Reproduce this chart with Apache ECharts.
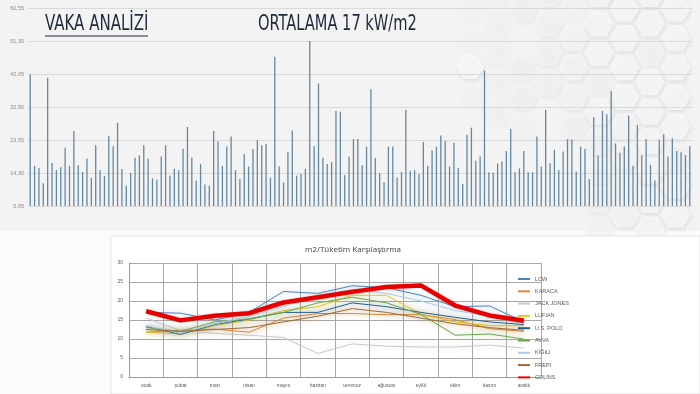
<!DOCTYPE html>
<html><head><meta charset="utf-8">
<script src="https://cdn.jsdelivr.net/npm/echarts@6/dist/echarts.min.js"></script>
<style>html,body{margin:0;padding:0;background:#f3f3f3}#c{width:700px;height:394px}</style>
</head><body><div id="c"></div>
<script>
// ---- top chart data ----
const barTicks = [5.05, 14.30, 23.55, 32.80, 42.05, 51.30, 60.55];
const barValues = [
 42.0,16.3,15.7,11.4,41.0,17.1,15.1,15.9,21.4,16.3,26.1,16.5,14.6,18.3,13.0,22.1,15.1,13.5,24.7,21.8,
 28.4,15.4,10.7,14.4,18.6,19.3,22.1,18.3,12.8,12.4,18.9,22.1,13.5,15.4,15.1,21.1,27.2,18.6,12.1,16.8,
 11.1,10.7,26.1,23.2,16.3,21.7,24.5,15.1,12.6,19.6,16.1,
 21.0,23.5,22.1,22.4,13.0,46.9,16.1,11.6,20.2,26.2,13.5,14.0,15.4,51.3,21.9,39.4,18.6,16.8,17.4,31.7,
 31.5,13.7,18.9,23.8,23.8,16.5,21.7,37.8,18.5,14.2,11.7,21.7,21.7,13.0,14.6,32.0,14.9,15.1,14.0,23.0,
 16.3,20.7,21.7,24.8,23.3,16.1,22.8,15.7,11.2,25.0,27.0,17.7,18.9,43.0,14.5,14.4,17.0,
 17.5,20.5,26.6,14.5,15.6,20.5,14.5,14.5,24.5,16.1,32.0,17.0,20.8,15.1,20.3,23.8,23.7,14.7,21.7,21.0,
 12.6,29.9,19.2,31.7,30.8,37.3,22.6,20.0,21.7,30.4,16.3,27.8,19.3,23.8,16.5,12.3,23.6,25.1,18.9,24.0,
 20.5,20.1,19.3,21.9
];
const barCats = barValues.map((v, i) => String(i + 1));

// ---- bottom chart data ----
const months = ["ocak","şubat","mart","nisan","mayıs","haziran","temmuz","ağustos","eylül","ekim","kasım","aralık"];
const lcw       = [17.0,16.8,15.0,17.0,22.5,22.0,24.0,23.5,21.5,18.5,18.7,14.5];
const karaca    = [11.8,12.3,12.6,11.8,15.5,16.7,16.7,16.4,16.4,15.1,12.7,12.0];
const jackJones = [15.5,12.2,11.5,11.0,10.4,6.2,8.7,8.1,7.9,7.9,8.4,7.6];
const lufian    = [11.8,11.3,13.5,15.0,17.5,18.5,21.5,21.5,16.5,14.5,13.5,13.5];
const usPolo    = [13.3,11.2,13.8,15.3,17.0,17.0,19.5,18.5,17.0,15.7,14.5,13.8];
const avva      = [13.0,12.0,14.5,15.3,17.0,19.5,21.0,19.5,16.5,11.0,11.3,10.0];
const kigili    = [13.5,11.5,14.0,16.0,18.5,21.5,23.0,22.0,20.0,17.5,16.0,14.0];
const frepi     = [12.5,12.0,12.5,13.0,14.5,16.0,18.0,17.0,15.5,14.0,13.0,12.3];
const colins    = [17.3,14.9,16.1,16.8,19.6,21.0,22.4,23.7,24.1,18.8,16.2,14.8];
const lineNames = ["LCW","KARACA","JACK JONES","LUFIAN","U.S. POLO","AVVA","KİĞILI","FREPI","COLİNS"];
const lineData  = [lcw,karaca,jackJones,lufian,usPolo,avva,kigili,frepi,colins];
const lineColors = ["#4f81bd","#e0883a","#c9c9c9","#f2c418","#245f8c","#6aa84f","#a9cbe8","#9c6a35","#e60000"];

const chart = echarts.init(document.getElementById('c'), null, {renderer:'canvas'});
const fmt = v => v.toFixed(2).replace('.', ',');

// decorative hexagon background (top right), subtle embossed look
const hexes = [];
const R = 17, hH = R * Math.sqrt(3) / 2;
function hexPts(cx, cy, r) {
  const pts = [];
  for (let k = 0; k < 6; k++) { const ang = Math.PI / 3 * k; pts.push([cx + r * Math.cos(ang), cy + r * Math.sin(ang)]); }
  return pts;
}
for (let col = 0; col < 12; col++) {
  for (let row = 0; row < 9; row++) {
    const cx = 395 + col * R * 1.5;
    const cy = -6 + row * hH * 2 + (col % 2 ? hH : 0);
    if (cy > 235) continue;
    let a = (cx - 470) / 200 + (cy < 120 ? 0.15 : -0.1);
    if (cy > 130 && cx < 580) a -= 0.35;
    if ((col * 5 + row * 3) % 7 === 0) a -= 0.5;
    if (a <= 0.08) continue;
    a = Math.min(0.85, a);
    hexes.push({type:'polygon', shape:{points:hexPts(cx, cy, R - 2)}, z:-8, silent:true,
      style:{fill:'#f7f7f7', opacity:a, shadowBlur:4, shadowOffsetX:1, shadowOffsetY:2, shadowColor:'rgba(0,0,0,0.10)'}});
  }
}
hexes.push({type:'polygon', shape:{points:hexPts(470, 67, 14)}, z:-8, silent:true,
  style:{fill:'#f8f8f8', opacity:0.85, shadowBlur:4, shadowOffsetX:1, shadowOffsetY:2, shadowColor:'rgba(0,0,0,0.10)'}});

const lineSeries = lineNames.map((n, i) => ({
  name: n, type: 'line', xAxisIndex: 1, yAxisIndex: 1, data: lineData[i],
  symbol: 'none', smooth: false,
  lineStyle: {width: i === 8 ? 4.5 : 1, color: lineColors[i],
    shadowBlur: i === 8 ? 2 : 6, shadowColor: i === 8 ? 'rgba(230,0,0,0.2)' : lineColors[i] + '99'},
  itemStyle: {color: lineColors[i]}, z: i === 8 ? 5 : 3
}));

const titleFont = '22px "Liberation Sans Narrow","DejaVu Sans Condensed","Roboto",sans-serif';

chart.setOption({
  animation: false,
  backgroundColor: '#f3f3f3',
  graphic: hexes.concat([
    {type:'rect', shape:{x:0,y:231,width:700,height:163}, style:{fill:'#fbfbfb'}, z:-10},
    {type:'rect', shape:{x:111,y:236,width:589,height:158}, style:{fill:'#ffffff', stroke:'#e4e4e4', lineWidth:1}, z:-7},
    {type:'text', x:45, y:13, scaleX:0.76, originX:0, originY:0,
      style:{text:'VAKA ANALİZİ', font:titleFont, fill:'#1d2a3a'}, z:10},
    {type:'line', shape:{x1:45,y1:36,x2:148,y2:36}, style:{stroke:'#1d2a3a', lineWidth:1}, z:10},
    {type:'text', x:258, y:13, scaleX:0.74, originX:0, originY:0,
      style:{text:'ORTALAMA 17 kW/m2', font:titleFont, fill:'#1d2a3a'}, z:10}
  ]),
  title: {text:'m2/Tüketim Karşılaştırma', left:348, top:241, textAlign:'center',
    textStyle:{fontSize:8, fontWeight:'normal', color:'#404040', fontFamily:'"Open Sans",sans-serif'}},
  legend: {data: lineNames, orient:'vertical', left:513, top:271, itemWidth:12, itemHeight:2, itemGap:6.3,
    icon:'rect', textStyle:{fontSize:5.5, color:'#595959'}},
  grid: [
    {left:28, right:8, top:8, bottom:188, z:2},
    {left:129, right:159, top:263, bottom:17}
  ],
  xAxis: [
    {type:'category', gridIndex:0, data:barCats, boundaryGap:true, axisLine:{show:false}, axisTick:{show:false}, axisLabel:{show:false}},
    {type:'category', gridIndex:1, data:months, boundaryGap:true,
      axisLine:{lineStyle:{color:'#9a9a9a'}}, axisTick:{show:false},
      axisLabel:{fontSize:5, color:'#595959', margin:6},
      splitLine:{show:true, lineStyle:{color:'#a8a8a8', width:1}}}
  ],
  yAxis: [
    {type:'value', gridIndex:0, min:5.05, max:60.55, interval:9.25, z:2,
      axisLabel:{formatter:fmt, fontSize:5.5, color:'#8a8a8a', margin:4},
      axisLine:{show:false}, axisTick:{show:false},
      splitLine:{lineStyle:{color:'#d9d9d9', width:1}}},
    {type:'value', gridIndex:1, min:0, max:30, interval:5,
      axisLabel:{fontSize:5, color:'#595959', margin:6},
      axisLine:{show:true, lineStyle:{color:'#9a9a9a'}}, axisTick:{show:false},
      splitLine:{lineStyle:{color:'#a8a8a8', width:1}}}
  ],
  series: [
    {type:'bar', xAxisIndex:0, yAxisIndex:0, data:barValues, barWidth:1.3,
      itemStyle:{color:'#6488a0'}, z:3}
  ].concat(lineSeries)
});
</script></body></html>
